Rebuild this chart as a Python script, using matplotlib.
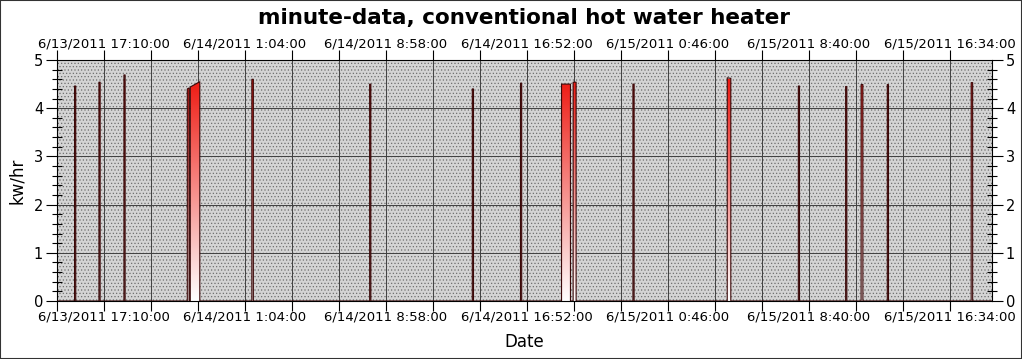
import matplotlib
matplotlib.use("Agg")
import matplotlib.pyplot as plt
import matplotlib.dates as mdates
from matplotlib.colors import LinearSegmentedColormap
from matplotlib.patches import Rectangle, Polygon
from matplotlib.ticker import FuncFormatter, FixedLocator, MultipleLocator
from datetime import datetime, timedelta
import numpy as np

# ---- data ----
on_times = ["2011-06-13 15:31", "2011-06-13 16:53", "2011-06-13 18:17",
            "2011-06-13 21:50", "2011-06-13 22:00", "2011-06-14 01:27",
            "2011-06-14 08:03", "2011-06-14 13:48", "2011-06-14 16:30",
            "2011-06-14 18:48", "2011-06-14 19:27", "2011-06-14 22:48",
            "2011-06-15 04:05", "2011-06-15 08:04", "2011-06-15 10:43",
            "2011-06-15 11:35", "2011-06-15 13:03", "2011-06-15 17:45"]
off_times = ["2011-06-13 15:35", "2011-06-13 16:57", "2011-06-13 18:21",
             "2011-06-13 21:56", "2011-06-13 22:32", "2011-06-14 01:32",
             "2011-06-14 08:07", "2011-06-14 13:52", "2011-06-14 16:34",
             "2011-06-14 19:18", "2011-06-14 19:37", "2011-06-14 22:52",
             "2011-06-15 04:17", "2011-06-15 08:08", "2011-06-15 10:47",
             "2011-06-15 11:41", "2011-06-15 13:07", "2011-06-15 17:50"]
kw_on = [4.46, 4.54, 4.69, 4.40, 4.44, 4.60, 4.50, 4.40, 4.52,
         4.50, 4.54, 4.50, 4.63, 4.46, 4.45, 4.49, 4.49, 4.53]
kw_off = [4.46, 4.54, 4.69, 4.42, 4.55, 4.60, 4.50, 4.40, 4.52,
          4.50, 4.54, 4.50, 4.62, 4.46, 4.45, 4.49, 4.49, 4.53]

x_start = "2011-06-13 14:32"
x_end = "2011-06-15 18:55"
tick_step_minutes = 158
label_every = 3

title = "minute-data, conventional hot water heater"
ylabel = "kw/hr"
xlabel = "Date"

# ---- build series ----
fmt = "%Y-%m-%d %H:%M"
t0 = datetime.strptime(x_start, fmt)
t1 = datetime.strptime(x_end, fmt)
xs = [mdates.date2num(t0)]
ys = [0.0]
for a, b, h1, h2 in zip(on_times, off_times, kw_on, kw_off):
    ta = mdates.date2num(datetime.strptime(a, fmt))
    tb = mdates.date2num(datetime.strptime(b, fmt))
    xs += [ta, ta, tb, tb]
    ys += [0.0, h1, h2, 0.0]
xs.append(mdates.date2num(t1))
ys.append(0.0)

plt.rcParams["hatch.linewidth"] = 0.5
W, H = 1022, 359
fig = plt.figure(figsize=(W / 100, H / 100), dpi=100)
ax = fig.add_axes([57 / W, 1 - 301 / H, (992 - 57) / W, (301 - 60) / H])

ax.set_xlim(mdates.date2num(t0), mdates.date2num(t1))
ax.set_ylim(0, 5)

# background: light gray with dots
ax.set_facecolor("#d4d4d4")
bg = Rectangle((0, 0), 1, 1, transform=ax.transAxes, facecolor="#d4d4d4",
               edgecolor="#707070", hatch=".....", linewidth=0, zorder=0)
ax.add_patch(bg)

# grid
ax.grid(True, which="major", color="#404040", linewidth=0.7, zorder=1)
ax.set_axisbelow(True)

# gradient fill clipped by the series polygon
poly = Polygon(np.column_stack([xs, ys]), closed=True, facecolor="none",
               edgecolor="none")
ax.add_patch(poly)
cmap = LinearSegmentedColormap.from_list("wr", ["#ffffff", "#ee1a12"])
grad = np.linspace(0, 1, 256).reshape(-1, 1)
im = ax.imshow(grad, aspect="auto", cmap=cmap, origin="lower",
               extent=[xs[0], xs[-1], 0, 4.6], zorder=2, interpolation="bilinear")
im.set_clip_path(poly)
ax.plot(xs, ys, color="#3a0808", linewidth=0.8, zorder=3)

# x ticks
ticks = []
t = t0
while t <= t1:
    ticks.append(mdates.date2num(t))
    t += timedelta(minutes=tick_step_minutes)
ax.xaxis.set_major_locator(FixedLocator(ticks))


def xfmt(v, pos):
    idx = int(round((v - ticks[0]) * 1440 / tick_step_minutes))
    if idx % label_every != 1:
        return ""
    d = mdates.num2date(v)
    return f"{d.month}/{d.day}/{d.year} {d.hour}:{d.minute:02d}:{d.second:02d}"


ax.xaxis.set_major_formatter(FuncFormatter(xfmt))
ax.tick_params(axis="x", which="major", direction="out", length=7, width=0.8,
               top=True, labeltop=True, labelsize=9.5, colors="black", pad=0)

# y ticks
ax.yaxis.set_major_locator(MultipleLocator(1))
ax.yaxis.set_minor_locator(MultipleLocator(0.2))
ax.tick_params(axis="y", which="major", direction="out", length=8, width=0.8,
               right=True, labelright=True, labelsize=10.5, pad=2)
ax.tick_params(axis="y", which="minor", direction="inout", length=7, width=0.8,
               right=True)

for s in ax.spines.values():
    s.set_color("black")
    s.set_linewidth(0.8)

ax.set_ylabel(ylabel, fontsize=12)
ax.yaxis.set_label_coords(-(57 - 26) / 935, 0.5)
ax.set_xlabel(xlabel, fontsize=12, labelpad=7)
fig.text(524 / W, 1 - 18 / H, title, ha="center", va="center",
         fontsize=15.5, fontweight="bold")

fig.patches.append(Rectangle((0, 0), 1, 1, transform=fig.transFigure,
                             facecolor="none", edgecolor="#333333",
                             linewidth=1.5))

fig.savefig("out.png", dpi=100)
